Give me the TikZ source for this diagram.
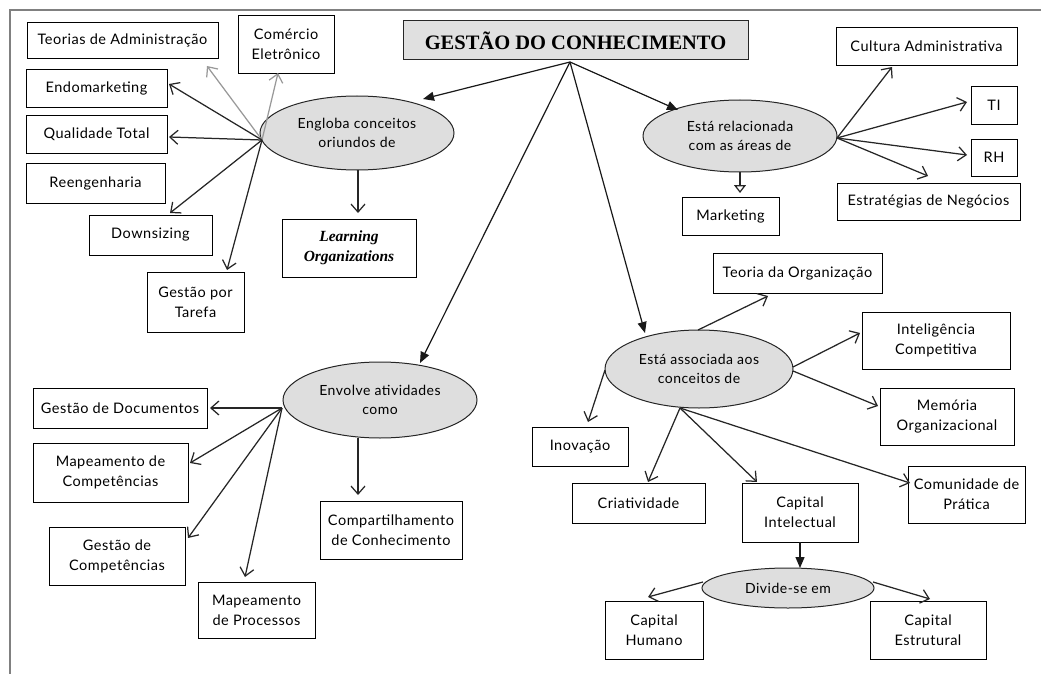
\documentclass[tikz,border=0pt]{standalone}
\usepackage{fontspec}
\setmainfont{Lato}[LetterSpace=3.5]
\newfontfamily\titlefont{Liberation Serif}
\usetikzlibrary{arrows.meta,calc,shapes.geometric,shadows}
\begin{document}
\begin{tikzpicture}[x=1pt,y=-1pt,
  box/.style={draw=black, line width=0.9pt, fill=white, inner sep=0pt, align=center,
    font=\fontsize{14.5}{20}\selectfont,
    general shadow={fill=black!75, shadow xshift=1pt, shadow yshift=-1pt}},
  ell/.style={ellipse, draw=black!85, line width=1pt, fill=black!13, inner sep=0pt, align=center,
    font=\fontsize{14}{19}\selectfont},
  arr/.style={draw=black!85, line width=1.25pt, -{Straight Barb[length=8pt,width=14pt]}},
  garr/.style={arr, draw=black!40},
  oarr/.style={draw=black!85, line width=1.25pt, -{Triangle[open,length=8pt,width=12pt]}},
  farr/.style={draw=black!90, line width=1.2pt, -{Triangle[length=11pt,width=9pt]}},
  frame/.style={draw=black!50, line width=1.5pt}
]
\useasboundingbox (0,0) rectangle (1041,674);
\draw[frame] (10,674) -- (10,10) -- (1041,10);

% title
\node[draw=black!85, line width=1pt, fill=black!12, inner sep=0pt, minimum width=345pt, minimum height=39pt,
  font=\titlefont\bfseries\fontsize{20.5}{24}\selectfont] (title) at (575.5,40.5) {GESTÃO DO CONHECIMENTO};

% ellipses
\node[ell, minimum width=194pt, minimum height=74pt] (engloba) at (357,133) {Engloba conceitos\\oriundos de};
\node[ell, minimum width=194pt, minimum height=72pt] (relacionada) at (740,136) {Está relacionada\\com as áreas de};
\node[ell, minimum width=194pt, minimum height=76pt] (envolve) at (380,400) {Envolve atividades\\como};
\node[ell, minimum width=188pt, minimum height=78pt] (associada) at (699,369) {Está associada aos\\conceitos de};
\node[ell, minimum width=172pt, minimum height=40pt] (divide) at (788,588) {Divide-se em};

% boxes left-top
\node[box, minimum width=191pt, minimum height=36pt] (teorias) at (122.5,40) {Teorias de Administração};
\node[box, minimum width=96pt, minimum height=58pt] (comercio) at (286,44) {Comércio\\Eletrônico};
\node[box, minimum width=141pt, minimum height=38pt] (endo) at (96.5,88) {Endomarketing};
\node[box, minimum width=141pt, minimum height=38pt] (qualidade) at (96.5,134) {Qualidade Total};
\node[box, minimum width=139pt, minimum height=40pt] (reeng) at (95.5,183) {Reengenharia};
\node[box, minimum width=123pt, minimum height=40pt] (downs) at (150.5,235) {Downsizing};
\node[box, minimum width=97pt, minimum height=60pt] (tarefa) at (195.5,302) {Gestão por\\Tarefa};
\node[box, minimum width=134pt, minimum height=58pt,
  font=\titlefont\bfseries\itshape\fontsize{15.5}{20}\selectfont] (learning) at (349,248) {Learning\\Organizations};

% boxes right-top
\node[box, minimum width=181pt, minimum height=38pt] (cultura) at (926.5,46) {Cultura Administrativa};
\node[box, minimum width=46pt, minimum height=38pt] (ti) at (994,105) {TI};
\node[box, minimum width=46pt, minimum height=37pt] (rh) at (994,157.5) {RH};
\node[box, minimum width=183pt, minimum height=37pt] (estrat) at (928.5,201.5) {Estratégias de Negócios};
\node[box, minimum width=97pt, minimum height=38pt] (marketing) at (730.5,216) {Marketing};

% boxes left-bottom
\node[box, minimum width=174pt, minimum height=40pt] (gdoc) at (120,408) {Gestão de Documentos};
\node[box, minimum width=155pt, minimum height=59pt] (mapcomp) at (110.5,472.5) {Mapeamento de\\Competências};
\node[box, minimum width=136pt, minimum height=58pt] (gcomp) at (117,556) {Gestão de\\Competências};
\node[box, minimum width=117pt, minimum height=56pt] (mapproc) at (256.5,610) {Mapeamento\\de Processos};
\node[box, minimum width=142pt, minimum height=58pt] (compart) at (391,530) {Compartilhamento\\de Conhecimento};

% boxes right-bottom
\node[box, minimum width=169pt, minimum height=40pt] (teoriaorg) at (797.5,273) {Teoria da Organização};
\node[box, minimum width=148pt, minimum height=57pt] (intel) at (936,340.5) {Inteligência\\Competitiva};
\node[box, minimum width=134pt, minimum height=57pt] (memoria) at (947,416.5) {Memória\\Organizacional};
\node[box, minimum width=96pt, minimum height=39pt] (inovacao) at (580,446.5) {Inovação};
\node[box, minimum width=133pt, minimum height=40pt] (criat) at (638.5,503) {Criatividade};
\node[box, minimum width=116pt, minimum height=59pt] (capint) at (800,512.5) {Capital\\Intelectual};
\node[box, minimum width=117pt, minimum height=57pt] (comunidade) at (966.5,494.5) {Comunidade de\\Prática};
\node[box, minimum width=98pt, minimum height=58pt] (caphum) at (654,630) {Capital\\Humano};
\node[box, minimum width=116pt, minimum height=58pt] (capest) at (928,630) {Capital\\Estrutural};

% hub arrows
\coordinate (hub) at ($(title.center)+(-5.5,21.5)$);
\draw[farr] (hub) -- ($(engloba.center)+(66,-34)$);
\draw[farr] (hub) -- ($(relacionada.center)+(-62,-26)$);
\draw[farr] (hub) -- ($(envolve.center)+(40,-37)$);
\draw[farr] (hub) -- ($(associada.center)+(-54,-36)$);

% engloba
\coordinate (eo) at ($(engloba.center)+(-95,7)$);
\draw[garr] (eo) -- ($(teorias.center)+(84.5,26)$);
\draw[garr] (eo) -- ($(comercio.center)+(-8,29)$);
\draw[arr] (eo) -- ($(endo.center)+(72.5,-4)$);
\draw[arr] (eo) -- ($(qualidade.center)+(72.5,3)$);
\draw[arr] (eo) -- ($(downs.center)+(19.5,-22)$);
\draw[arr] (eo) -- ($(tarefa.center)+(31.5,-32)$);
\draw[arr] ($(engloba.center)+(1,37)$) -- ($(learning.center)+(9,-35)$);

% relacionada
\coordinate (ro) at ($(relacionada.center)+(97,2)$);
\draw[arr] (ro) -- ($(cultura.center)+(-34.5,21)$);
\draw[arr] (ro) -- ($(ti.center)+(-27,-3)$);
\draw[arr] (ro) -- ($(rh.center)+(-27,-2.5)$);
\draw[arr] (ro) -- ($(estrat.center)+(-0.5,-25.5)$);
\draw[oarr] ($(relacionada.center)+(0,36)$) -- ($(marketing.center)+(9.5,-23)$);

% envolve
\coordinate (vo) at ($(envolve.center)+(-98,8)$);
\draw[arr] (vo) -- ($(gdoc.center)+(90,0)$);
\draw[arr] (vo) -- ($(mapcomp.center)+(79.5,-9.5)$);
\draw[arr] (vo) -- ($(gcomp.center)+(71,-18)$);
\draw[arr] (vo) -- ($(mapproc.center)+(-11.5,-33)$);
\draw[arr] ($(envolve.center)+(-22,38)$) -- ($(compart.center)+(-33,-35)$);

% associada
\draw[arr] ($(associada.center)+(-1,-39)$) -- ($(teoriaorg.center)+(-29.5,23)$);
\draw[arr] ($(associada.center)+(94,-2)$) -- ($(intel.center)+(-76,-7.5)$);
\draw[arr] ($(associada.center)+(94,2)$) -- ($(memoria.center)+(-69,-10.5)$);
\draw[arr] ($(associada.center)+(-94,1)$) -- ($(inovacao.center)+(8,-24.5)$);
\coordinate (ao) at ($(associada.center)+(-19,39)$);
\draw[arr] (ao) -- ($(criat.center)+(9.5,-21)$);
\draw[arr] (ao) -- ($(capint.center)+(-43,-30.5)$);
\draw[arr] (ao) -- ($(comunidade.center)+(-56.5,-11.5)$);

% capital
\draw[farr] ($(capint.center)+(0,29.5)$) -- ($(divide.center)+(12,-20)$);
\draw[arr] ($(divide.center)+(-85,-6)$) -- ($(caphum.center)+(-6,-33)$);
\draw[arr] ($(divide.center)+(85,-6)$) -- ($(capest.center)+(2,-31)$);
\end{tikzpicture}
\end{document}
